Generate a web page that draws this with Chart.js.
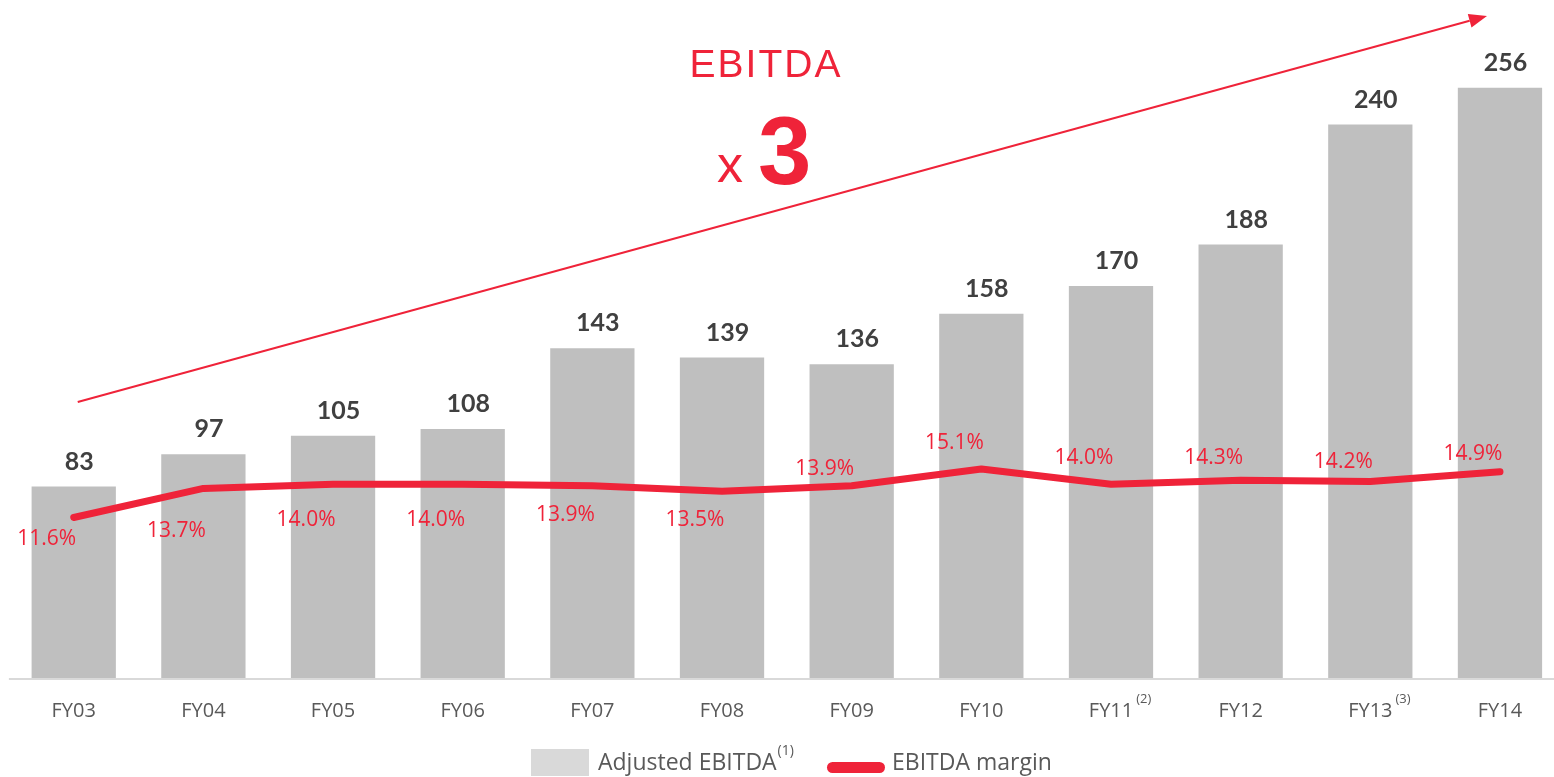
<!DOCTYPE html>
<html><head><meta charset="utf-8">
<script src="https://cdn.jsdelivr.net/npm/chart.js@4.4.1/dist/chart.umd.min.js"></script>
<style>
html,body{margin:0;padding:0;overflow:hidden;background:#fff;width:1554px;height:777px}
#wrap{width:1575px;height:777px;position:relative}
</style></head>
<body><div id="wrap"><canvas id="c" width="1575" height="777"></canvas></div>
<script>
const categories = ['FY03','FY04','FY05','FY06','FY07','FY08','FY09','FY10','FY11','FY12','FY13','FY14'];
const tickSuperscripts = ['','','','','','','','','(2)','','(3)',''];
const adjustedEbitda = [83,97,105,108,143,139,136,158,170,188,240,256];
const ebitdaMargin = [11.6,13.7,14.0,14.0,13.9,13.5,13.9,15.1,14.0,14.3,14.2,14.9];
const seriesNames = ['Adjusted EBITDA','EBITDA margin'];
const legendSuperscripts = ['(1)',''];
const titleText = 'EBITDA';
const multiplierPrefix = 'x';
const multiplierValue = '3';

const RED = '#EF2339';
const BAR = '#BFBFBF';
// vertical offsets of margin labels relative to their points (layout only)
const marginLabelDy = [22,43,36,36,29,29,-17,-26,-26,-22,-20,-18];

const deco = {
  id: 'deco',
  afterDatasetsDraw(chart) {
    const ctx = chart.ctx;
    const x = chart.scales.x, y = chart.scales.y;
    const area = chart.chartArea;
    ctx.save();
    // axis line
    ctx.fillStyle = '#D9D9D9';
    ctx.fillRect(area.left, y.getPixelForValue(0), 1554 - area.left, 2);

    // bar value labels
    const barMeta = chart.getDatasetMeta(0);
    ctx.font = 'bold 25px Lato, "Open Sans", sans-serif';
    ctx.fillStyle = '#404040';
    ctx.textAlign = 'center';
    ctx.textBaseline = 'middle';
    barMeta.data.forEach((el, i) => {
      ctx.fillText(String(adjustedEbitda[i]), el.x + 5.5, el.y - 25);
    });

    // margin labels
    const lineMeta = chart.getDatasetMeta(1);
    ctx.font = '21px "Open Sans", sans-serif';
    ctx.fillStyle = RED;
    lineMeta.data.forEach((el, i) => {
      ctx.fillText(ebitdaMargin[i].toFixed(1) + '%', el.x - 27, el.y + marginLabelDy[i]);
    });

    // x tick labels
    ctx.fillStyle = '#595959';
    ctx.textBaseline = 'alphabetic';
    categories.forEach((c, i) => {
      const cx = x.getPixelForValue(i);
      ctx.font = '20px "Open Sans", sans-serif';
      ctx.textAlign = 'center';
      ctx.fillText(c, cx, 717);
      if (tickSuperscripts[i]) {
        const w = ctx.measureText(c).width;
        ctx.font = '13px "Open Sans", sans-serif';
        ctx.textAlign = 'left';
        ctx.fillText(tickSuperscripts[i], cx + w / 2 + 3, 703);
      }
    });

    // growth arrow
    const x0 = x.getPixelForValue(0) + 4, y0 = y.getPixelForValue(119.7);
    const x1 = 1487, y1 = 16;
    ctx.strokeStyle = RED;
    ctx.lineWidth = 2;
    const ang = Math.atan2(y1 - y0, x1 - x0);
    const hl = 18, hw = 7;
    const bx = x1 - hl * Math.cos(ang), by = y1 - hl * Math.sin(ang);
    ctx.beginPath();
    ctx.moveTo(x0, y0);
    ctx.lineTo(bx, by);
    ctx.stroke();
    ctx.fillStyle = RED;
    ctx.beginPath();
    ctx.moveTo(x1, y1);
    ctx.lineTo(bx + hw * Math.sin(ang), by - hw * Math.cos(ang));
    ctx.lineTo(bx - hw * Math.sin(ang), by + hw * Math.cos(ang));
    ctx.closePath();
    ctx.fill();

    // title
    ctx.fillStyle = RED;
    ctx.textAlign = 'left';
    ctx.font = '39px "Liberation Sans", Arial, sans-serif';
    ctx.letterSpacing = '2px';
    const tw = ctx.measureText(titleText).width - 2;
    ctx.fillText(titleText, 765 - tw / 2, 77);
    ctx.letterSpacing = '0px';
    ctx.font = '52px "Liberation Sans", Arial, sans-serif';
    ctx.fillText(multiplierPrefix, 717, 182);
    ctx.font = 'bold 96px "Liberation Sans", Arial, sans-serif';
    ctx.fillText(multiplierValue, 758, 184);

    // legend
    ctx.fillStyle = '#D9D9D9';
    ctx.fillRect(531, 749, 58, 27);
    ctx.fillStyle = '#595959';
    ctx.font = '23px "Open Sans", sans-serif';
    ctx.fillText(seriesNames[0], 598, 770);
    let w0 = ctx.measureText(seriesNames[0]).width;
    ctx.font = '14px "Open Sans", sans-serif';
    ctx.fillText(legendSuperscripts[0], 598 + w0 + 1, 755);
    ctx.fillStyle = RED;
    ctx.beginPath();
    ctx.roundRect(827, 762, 58, 11, 5.5);
    ctx.fill();
    ctx.fillStyle = '#595959';
    ctx.font = '23px "Open Sans", sans-serif';
    ctx.fillText(seriesNames[1], 892, 770);
    ctx.restore();
  }
};

new Chart(document.getElementById('c'), {
  data: {
    labels: categories,
    datasets: [
      { type: 'bar', label: seriesNames[0], data: adjustedEbitda, backgroundColor: BAR,
        barPercentage: 0.65, categoryPercentage: 1, yAxisID: 'y', order: 2 },
      { type: 'line', label: seriesNames[1], data: ebitdaMargin, borderColor: RED, borderWidth: 7,
        pointRadius: 0, tension: 0, borderCapStyle: 'round', borderJoinStyle: 'round',
        yAxisID: 'y2', order: 1 }
    ]
  },
  options: {
    responsive: false,
    animation: false,
    devicePixelRatio: 1,
    layout: { padding: { left: 8.9, right: 10.2, top: 0, bottom: 99 } },
    plugins: { legend: { display: false }, tooltip: { enabled: false } },
    scales: {
      x: { type: 'category', display: false, offset: true },
      y: { display: false, min: 0, max: 294 },
      y2: { display: false, min: 0, max: 49, position: 'right' }
    }
  },
  plugins: [deco]
});
</script>
</body></html>
